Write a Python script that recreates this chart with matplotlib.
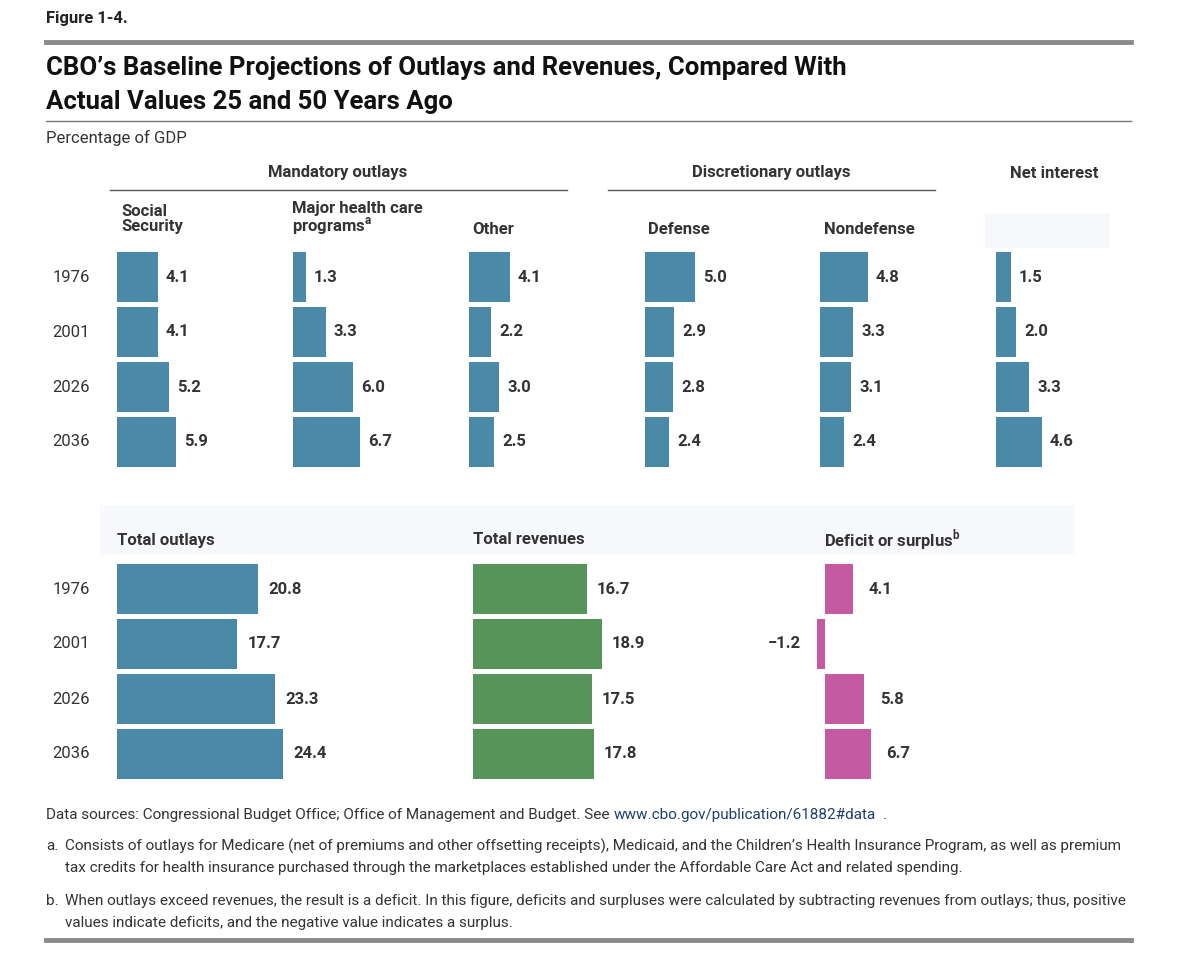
import matplotlib
matplotlib.use("Agg")
import matplotlib.pyplot as plt
from matplotlib.patches import Rectangle
from matplotlib.lines import Line2D

plt.rcParams['font.family'] = ['Roboto', 'DejaVu Sans']

years = ["1976", "2001", "2026", "2036"]
social_security = [4.1, 4.1, 5.2, 5.9]
health = [1.3, 3.3, 6.0, 6.7]
other = [4.1, 2.2, 3.0, 2.5]
defense = [5.0, 2.9, 2.8, 2.4]
nondefense = [4.8, 3.3, 3.1, 2.4]
net_interest = [1.5, 2.0, 3.3, 4.6]
total_outlays = [20.8, 17.7, 23.3, 24.4]
total_revenues = [16.7, 18.9, 17.5, 17.8]
deficit = [4.1, -1.2, 5.8, 6.7]

BLUE = "#4a89a7"
GREEN = "#56945a"
PINK = "#c55aa2"
TXT = "#333333"

W, H = 1200, 956
fig = plt.figure(figsize=(W/100, H/100), dpi=100)

def T(x, y, s, **kw):
    kw.setdefault('color', TXT)
    fig.text(x/W, 1-y/H, s, **kw)

def hline(x0, x1, y, lw, color):
    fig.add_artist(Line2D([x0/W, x1/W], [1-y/H, 1-y/H], lw=lw, color=color))

def rect(x, y, w, h, color):
    fig.add_artist(Rectangle((x/W, 1-(y+h)/H), w/W, h/H, color=color, lw=0, zorder=0))

def panel(x0, ytop, vals, scale, color, xmin=0.0, off=8):
    wpx = 180
    ax = fig.add_axes([(x0 + xmin*scale)/W, 1-(ytop+220)/H, wpx/W, 220/H])
    ax.set_xlim(xmin, xmin + wpx/scale)
    ax.set_ylim(3.5, -0.5)
    ax.axis('off')
    ax.barh(range(len(vals)), vals, height=50/55, color=color)
    for i, v in enumerate(vals):
        if v >= 0:
            ax.annotate(f"{v:.1f}", (v, i), xytext=(off*0.72, 0), textcoords='offset points',
                        va='center', ha='left', fontsize=12, fontweight='bold', color=TXT)
        else:
            ax.annotate(f"\u2212{abs(v):.1f}", (v, i), xytext=(-off*0.72, 0), textcoords='offset points',
                        va='center', ha='right', fontsize=12, fontweight='bold', color=TXT)
    return ax

# header
T(46, 18, "Figure 1-4.", fontsize=12, fontweight='bold', va='center', color='#222222')
hline(46, 1131, 42, 3.5, '#8a8a8a')
T(46, 68, "CBO\u2019s Baseline Projections of Outlays and Revenues, Compared With",
  fontsize=18.5, fontweight='bold', va='center', color='#111111')
T(46, 102, "Actual Values 25 and 50 Years Ago", fontsize=18.5, fontweight='bold', va='center', color='#111111')
hline(46, 1131, 121, 1, '#777777')
T(46, 138, "Percentage of GDP", fontsize=12, va='center')

# faint bands
rect(985, 213, 125, 35, '#f6f8fb')
rect(100, 505, 975, 50, '#f8f9fc')

# group headers
T(338, 173, "Mandatory outlays", fontsize=12, fontweight='bold', ha='center', va='center')
hline(110, 567, 190, 1, '#555555')
T(771, 173, "Discretionary outlays", fontsize=12, fontweight='bold', ha='center', va='center')
hline(608, 935, 190, 1, '#555555')
T(1054, 173, "Net interest", fontsize=12, fontweight='bold', ha='center', va='center')

T(121, 219, "Social\nSecurity", fontsize=12, fontweight='bold', va='center', linespacing=1.0)
T(292, 219, "Major health care\nprograms$^{\\mathregular{a}}$", fontsize=12, fontweight='bold', va='center', linespacing=1.0)
T(472, 229, "Other", fontsize=12, fontweight='bold', va='center')
T(648, 229, "Defense", fontsize=12, fontweight='bold', va='center')
T(824, 229, "Nondefense", fontsize=12, fontweight='bold', va='center')

T(117, 540, "Total outlays", fontsize=12, fontweight='bold', va='center')
T(473, 540, "Total revenues", fontsize=12, fontweight='bold', va='center')
T(824, 540, "Deficit or surplus$^{\\mathregular{b}}$", fontsize=12, fontweight='bold', va='center')

# year labels
for i, y in enumerate(years):
    T(71, 277 + 55*i, y, fontsize=12, ha='center', va='center')
    T(71, 589 + 55*i, y, fontsize=12, ha='center', va='center')

TOP, BOT = 249.5, 561.5
panel(117, TOP, social_security, 10, BLUE)
panel(293, TOP, health, 10, BLUE)
panel(469, TOP, other, 10, BLUE)
panel(645, TOP, defense, 10, BLUE)
panel(820, TOP, nondefense, 10, BLUE)
panel(996, TOP, net_interest, 10, BLUE)

panel(117, BOT, total_outlays, 6.8, BLUE, off=10)
panel(473, BOT, total_revenues, 6.8, GREEN, off=10)
panel(825, BOT, deficit, 6.8, PINK, xmin=-2.0, off=16)

# footnotes
fs = 11
T(46, 815, "Data sources: Congressional Budget Office; Office of Management and Budget. See ", fontsize=fs, va='center')
T(614, 815, "www.cbo.gov/publication/61882#data", fontsize=fs, va='center', color='#1f3f6e')
T(883, 815, ".", fontsize=fs, va='center')
T(46, 846, "a.", fontsize=fs, va='center')
T(65, 846, "Consists of outlays for Medicare (net of premiums and other offsetting receipts), Medicaid, and the Children\u2019s Health Insurance Program, as well as premium", fontsize=fs, va='center')
T(65, 868, "tax credits for health insurance purchased through the marketplaces established under the Affordable Care Act and related spending.", fontsize=fs, va='center')
T(46, 901, "b.", fontsize=fs, va='center')
T(65, 901, "When outlays exceed revenues, the result is a deficit. In this figure, deficits and surpluses were calculated by subtracting revenues from outlays; thus, positive", fontsize=fs, va='center')
T(65, 923, "values indicate deficits, and the negative value indicates a surplus.", fontsize=fs, va='center')
hline(46, 1131, 940, 3.5, '#8a8a8a')

fig.savefig("out.png", dpi=100)
